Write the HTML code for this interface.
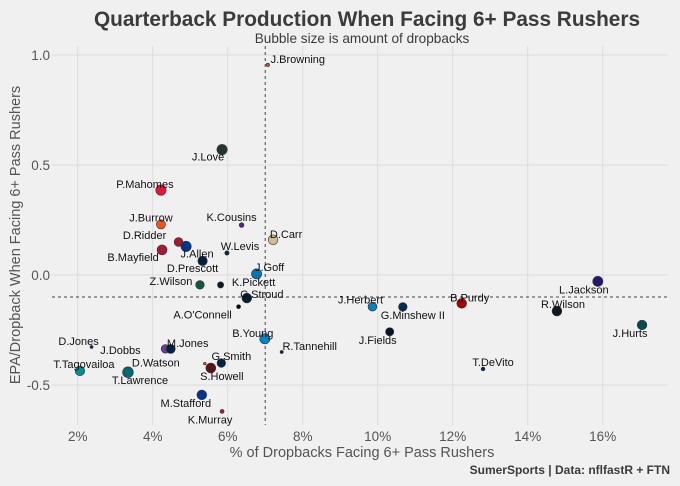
<!DOCTYPE html>
<html><head><meta charset="utf-8"><style>
body{margin:0;background:#f0f0f0;font-family:"Liberation Sans",sans-serif}
svg{display:block}
</style></head><body>
<svg id="chart" width="680" height="486" viewBox="0 0 680 486">
<rect width="680" height="486" fill="#f0f0f0"/>
<text x="367" y="26" text-anchor="middle" font-size="20.8" font-weight="bold" fill="#3b3b3b">Quarterback Production When Facing 6+ Pass Rushers</text>
<text x="362" y="43" text-anchor="middle" font-size="13.6" fill="#3b3b3b">Bubble size is amount of dropbacks</text>
<g id="grid"></g><g id="marks"></g>
<text x="362" y="457" text-anchor="middle" font-size="14.5" fill="#555">% of Dropbacks Facing 6+ Pass Rushers</text>
<text transform="translate(20,235) rotate(-90)" text-anchor="middle" font-size="14.5" fill="#555">EPA/Dropback When Facing 6+ Pass Rushers</text>
<text x="670" y="474" text-anchor="end" font-size="12" font-weight="bold" fill="#3b3b3b">SumerSports | Data: nflfastR + FTN</text>
</svg>
<script>
const names=["J.Browning","J.Love","P.Mahomes","J.Burrow","K.Cousins","D.Carr","D.Ridder","J.Allen","B.Mayfield","W.Levis","D.Prescott","J.Goff","Z.Wilson","K.Pickett","C.Stroud","A.O'Connell","B.Young","R.Tannehill","D.Jones","J.Dobbs","M.Jones","G.Smith","D.Watson","S.Howell","T.Tagovailoa","T.Lawrence","M.Stafford","K.Murray","J.Herbert","G.Minshew II","J.Fields","B.Purdy","T.DeVito","R.Wilson","L.Jackson","J.Hurts"];
const pctValues=[7.07,5.85,4.22,4.22,6.37,7.21,4.69,4.89,4.25,5.98,5.33,6.77,5.26,5.81,6.51,6.29,6.99,7.44,2.37,4.34,4.48,5.83,5.39,5.55,2.06,3.34,5.31,5.85,9.86,10.67,10.32,12.24,12.81,14.78,15.87,17.05];
const epaValues=[0.955,0.57,0.386,0.23,0.227,0.16,0.15,0.13,0.114,0.10,0.064,0.005,-0.045,-0.045,-0.105,-0.144,-0.29,-0.35,-0.327,-0.336,-0.336,-0.40,-0.403,-0.423,-0.436,-0.442,-0.545,-0.62,-0.144,-0.145,-0.258,-0.129,-0.427,-0.164,-0.029,-0.227];
const dropbacks=[60,520,520,400,110,460,380,520,480,90,430,500,360,190,460,80,500,50,45,360,400,360,35,480,440,560,460,80,380,360,330,460,70,460,500,450];
const colors=["#c0504a","#203731","#e31837","#fb4f14","#4f2683","#d3bc8d","#a71930","#00338d","#a71930","#0c2340","#041e42","#0076b6","#125740","#101820","#03202f","#000000","#0085ca","#0c2340","#0b2265","#6a3a9c","#002244","#002244","#ff3c00","#5a1414","#008e97","#006778","#003594","#97233f","#0080c6","#002c5f","#0b162a","#aa0000","#0b2265","#101820","#241773","#004c54"];
const labelDx=[30,-14,-16,-10,-10,13,-34,11,-29,13,-10,13,-29,33,15,-36,-12,28,-13,-45,17,10,-49,11,4,12,-16,-12,-12,10,-12,8,10,6,-14,-12];
const labelDy=[-6,7,-6,-7,-8,-6,-7,7,7,-7,7,-7,-4,-3,-4,8,-6,-6,-6,1,-6,-7,-1,8,-7,8,8,8,-7,8,8,-6,-7,-7,8,8];
const xTicks=[2,4,6,8,10,12,14,16];
const yTicks=[1.0,0.5,0.0,-0.5];
const meanX=7.0, meanY=-0.1;
const X=v=>2.7+37.5*v, Y=v=>275-220*v;
const NS="http://www.w3.org/2000/svg";
const grid=document.getElementById('grid'), marks=document.getElementById('marks');
function mk(tag,attrs,parent){const e=document.createElementNS(NS,tag);for(const k in attrs)e.setAttribute(k,attrs[k]);parent.appendChild(e);return e;}
xTicks.forEach(t=>{
 const l=mk('line',{x1:X(t),x2:X(t),y1:46,y2:425,stroke:'#dcdcdc','stroke-width':1},grid);
 
 
 const tx=mk('text',{x:X(t),y:441,'text-anchor':'middle','font-size':13.5,fill:'#555'},grid);
 tx.textContent=t+'%';
 
 
});
yTicks.forEach(t=>{
 const l=mk('line',{x1:52,x2:668,y1:Y(t),y2:Y(t),stroke:'#dcdcdc','stroke-width':1},grid);
 
 
 const tx=mk('text',{x:50,y:Y(t)+5,'text-anchor':'end','font-size':13.5,fill:'#555'},grid);
 tx.textContent=t.toFixed(1);
 
 
});
const vm=mk('line',{x1:X(meanX),x2:X(meanX),y1:46,y2:425,stroke:'#444','stroke-width':1,'stroke-dasharray':'3,3'},grid);


const hm=mk('line',{x1:52,x2:668,y1:Y(meanY),y2:Y(meanY),stroke:'#444','stroke-width':1,'stroke-dasharray':'3,3'},grid);


names.forEach((n,i)=>{
 const cx=X(pctValues[i]), cy=Y(epaValues[i]);
 const c=mk('circle',{cx:cx,cy:cy,r:Math.sqrt(dropbacks[i])/4.4,fill:colors[i],stroke:'#333','stroke-width':0.6},marks);
 
 
});
names.forEach((n,i)=>{
 const cx=X(pctValues[i]), cy=Y(epaValues[i]);
 const t=mk('text',{x:cx+labelDx[i],y:cy+labelDy[i]+4,'text-anchor':'middle','font-size':11,fill:'#111'},marks);
 t.textContent=n;
 
 
});
</script>
</body></html>
